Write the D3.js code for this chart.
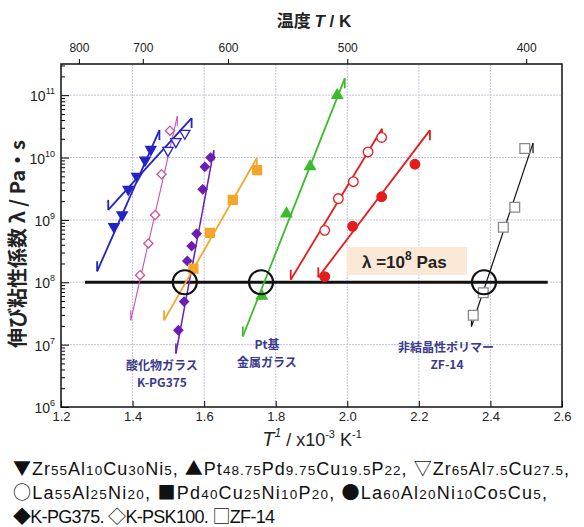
<!DOCTYPE html>
<html>
<head>
<meta charset="utf-8">
<script src="https://cdn.jsdelivr.net/npm/d3@7"></script>
<style>
  body { margin: 0; background: #fff; }
  svg { display: block; }
  text { font-family: "Liberation Sans", Arial, "Noto Sans CJK JP", sans-serif; }
  .jp { font-family: "Noto Sans CJK JP", sans-serif; }
</style>
</head>
<body>
<svg id="chart" width="584" height="527"></svg>
<script>
// --- data (x = 1000/T in 10^-3 K^-1, y = extensional viscosity in Pa s) ---
var zr55 = [[1.451, 1.35e10], [1.435, 9.1e9], [1.412, 5.0e9], [1.388, 3.1e9], [1.371, 1.2e9], [1.348, 7.8e8]]
var zr65 = [[1.499, 1.3e10], [1.521, 1.8e10], [1.546, 2.45e10]]
var psk100 = [[1.5045, 2.7e10], [1.481, 5.4e9], [1.463, 1.2e9], [1.444, 4.2e8], [1.421, 1.3e8]]
var pg375 = [[1.618, 1.0e10], [1.602, 7.1e9], [1.596, 3.1e9], [1.579, 6.0e8], [1.565, 3.8e8], [1.553, 2.2e8], [1.544, 4.9e7], [1.528, 1.7e7]]
var pd40 = [[1.748, 6.3e9], [1.680, 2.1e9], [1.616, 6.2e8], [1.570, 1.66e8]]
var pt = [[1.972, 1.0e11], [1.896, 7.2e9], [1.830, 1.26e9], [1.761, 6.0e7]]
var la55 = [[2.096, 2.1e10], [2.058, 1.23e10], [2.017, 4.1e9], [1.975, 2.2e9], [1.937, 6.8e8]]
var la60 = [[2.189, 7.8e9], [2.096, 2.35e9], [2.015, 7.9e8], [1.937, 1.23e8]]
var zf14 = [[2.496, 1.4e10], [2.468, 1.6e9], [2.436, 7.6e8], [2.380, 6.8e7], [2.352, 2.95e7]]

// fitted lines: [x0, y0, x1, y1]
var fitZr55 = [1.301, 1.5e8, 1.475, 2.75e10]
var fitZr65 = [1.332, 1.45e9, 1.565, 4.3e10]
var fitPsk100 = [1.395, 2.45e7, 1.525, 4.6e10]
var fitPg375 = [1.521, 7.2e6, 1.627, 1.3e10]
var fitPd40 = [1.488, 2.45e7, 1.747, 9.8e9]
var fitPt = [1.708, 1.35e7, 1.993, 1.86e11]
var fitLa55 = [1.842, 1.1e8, 2.097, 2.9e10]
var fitLa60 = [1.919, 1.2e8, 2.231, 2.75e10]
var fitZf14 = [2.347, 1.95e7, 2.519, 1.7e10]

var refViscosity = 1e8
var refLine = [1.267, 2.56]
var crossings = [1.546, 1.759, 2.382]

var xTicks = [1.2, 1.4, 1.6, 1.8, 2.0, 2.2, 2.4, 2.6]
var yDecades = [6, 7, 8, 9, 10, 11]
var topTemps = [800, 700, 600, 500, 400]

var legendLines = [
    [["▼", "Zr55Al10Cu30Ni5"], ["▲", "Pt48.75Pd9.75Cu19.5P22"], ["▽", "Zr65Al7.5Cu27.5"]],
    [["○", "La55Al25Ni20"], ["■", "Pd40Cu25Ni10P20"], ["●", "La60Al20Ni10Co5Cu5"]],
    [["◆", "K-PG375"], ["◇", "K-PSK100"], ["□", "ZF-14"]]
]
var legendWidths = [556, 534, 262]

var svg = d3.select("#chart")
var plotL = 61, plotR = 562, plotT = 64, plotB = 407

var x = d3.scaleLinear().domain([1.2, 2.6]).range([plotL, plotR])
var y = d3.scaleLog().domain([1e6, Math.pow(10, 11.5)]).range([plotB, plotT])

// grid
var grid = svg.append("g").attr("stroke", "#c4c4e6").attr("stroke-width", 1).attr("stroke-dasharray", "2,1")
grid.selectAll(".gx").data(xTicks.slice(1, -1)).enter().append("line")
    .attr("x1", function(d) { return x(d) }).attr("x2", function(d) { return x(d) })
    .attr("y1", plotT).attr("y2", plotB)
grid.selectAll(".gy").data(yDecades.slice(1)).enter().append("line")
    .attr("x1", plotL).attr("x2", plotR)
    .attr("y1", function(d) { return y(Math.pow(10, d)) }).attr("y2", function(d) { return y(Math.pow(10, d)) })

// axes
var minorVals = []
yDecades.forEach(function(d) {
    for (var k = 2; k <= 9; k++) {
        var v = k * Math.pow(10, d)
        if (v < y.domain()[1]) minorVals.push(v)
    }
})
svg.append("g").attr("transform", "translate(" + plotL + ",0)")
    .call(d3.axisRight(y).tickValues(minorVals).tickSize(4).tickFormat(""))
    .call(function(g) { g.select(".domain").remove() })
svg.append("g").attr("transform", "translate(" + plotL + ",0)")
    .call(d3.axisRight(y).tickValues(yDecades.map(function(d) { return Math.pow(10, d) })).tickSize(8).tickFormat(""))
    .call(function(g) { g.select(".domain").remove() })

var yLab = svg.append("g").selectAll("text").data(yDecades).enter().append("text")
    .attr("x", 55).attr("y", function(d) { return y(Math.pow(10, d)) + 6 })
    .attr("text-anchor", "end").attr("font-size", 14).attr("fill", "#222")
yLab.append("tspan").text("10")
yLab.append("tspan").attr("font-size", 9).attr("dy", -7).text(function(d) { return d })

svg.append("g").attr("transform", "translate(0," + plotB + ")")
    .call(d3.axisBottom(x).tickValues(xTicks).tickSizeInner(-6).tickSizeOuter(0).tickPadding(5)
        .tickFormat(d3.format(".1f")))
    .call(function(g) {
        g.select(".domain").remove()
        g.selectAll("text").attr("font-size", 13).attr("fill", "#222")
            .attr("font-family", "Liberation Sans, Arial, sans-serif")
    })

svg.append("g").attr("transform", "translate(0," + plotT + ")")
    .call(d3.axisTop(x).tickValues(topTemps.map(function(t) { return 1000 / t }))
        .tickSizeInner(5).tickSizeOuter(0).tickPadding(7)
        .tickFormat(function(d, i) { return topTemps[i] }))
    .call(function(g) {
        g.select(".domain").remove()
        g.selectAll("text").attr("font-size", 12).attr("fill", "#222")
            .attr("font-family", "Liberation Sans, Arial, sans-serif")
    })

svg.append("rect").attr("x", plotL).attr("y", plotT).attr("width", plotR - plotL).attr("height", plotB - plotT)
    .attr("fill", "none").attr("stroke", "#111").attr("stroke-width", 1.5)

// axis titles
var tt = svg.append("text").attr("x", 314).attr("y", 27).attr("text-anchor", "middle")
    .attr("font-size", 17).attr("font-weight", "bold").attr("fill", "#222")
tt.append("tspan").attr("class", "jp").text("温度 ")
tt.append("tspan").attr("font-style", "italic").text("T")
tt.append("tspan").text(" / K")

var xt = svg.append("text").attr("x", 312).attr("y", 446).attr("text-anchor", "middle")
    .attr("font-size", 18).attr("fill", "#222")
xt.append("tspan").attr("font-style", "italic").attr("font-size", 20).text("T")
xt.append("tspan").attr("font-style", "italic").attr("font-size", 12).attr("dy", -9).text("1")
xt.append("tspan").attr("dy", 9).text(" / x10")
xt.append("tspan").attr("font-size", 11).attr("dy", -8).text("-3")
xt.append("tspan").attr("dy", 8).text(" K")
xt.append("tspan").attr("font-size", 11).attr("dy", -8).text("-1")

svg.append("text").attr("class", "jp")
    .attr("transform", "translate(25,244) rotate(-90)").attr("text-anchor", "middle")
    .attr("font-size", 20).attr("font-weight", "bold").attr("fill", "#222")
    .text("伸び粘性係数 λ / Pa・s")

// reference level
svg.append("line").attr("x1", x(refLine[0])).attr("x2", x(refLine[1]))
    .attr("y1", y(refViscosity)).attr("y2", y(refViscosity))
    .attr("stroke", "#111").attr("stroke-width", 3)

svg.append("rect").attr("x", 347).attr("y", 247).attr("width", 120).attr("height", 28).attr("fill", "#fce8d6")
var rl = svg.append("text").attr("x", 362).attr("y", 268).attr("font-size", 17).attr("font-weight", "bold").attr("fill", "#222")
rl.append("tspan").text("λ =10")
rl.append("tspan").attr("font-size", 12).attr("dy", -8).text("8")
rl.append("tspan").attr("dy", 8).text("  Pas")

// series
var lineGen = function(f) { return [[x(f[0]), y(f[1])], [x(f[2]), y(f[3])]] }

function drawFit(f, color, width) {
    var p = lineGen(f)
    var g = svg.append("g").attr("stroke", color).attr("stroke-width", width).attr("fill", "none")
    g.append("line").attr("x1", p[0][0]).attr("y1", p[0][1]).attr("x2", p[1][0]).attr("y2", p[1][1])
    g.append("line").attr("x1", p[0][0]).attr("y1", p[0][1]).attr("x2", p[0][0]).attr("y2", p[0][1] - 10)
    g.append("line").attr("x1", p[1][0]).attr("y1", p[1][1]).attr("x2", p[1][0]).attr("y2", p[1][1] + 10)
}

function drawPoints(data, type, size, rot, fill, stroke) {
    svg.append("g").selectAll("path").data(data).enter().append("path")
        .attr("d", d3.symbol().type(type).size(size))
        .attr("transform", function(d) { return "translate(" + x(d[0]) + "," + y(d[1]) + ") rotate(" + rot + ")" })
        .attr("fill", fill).attr("stroke", stroke).attr("stroke-width", 1.3)
}

var blue = "#2323c8", pink = "#c850c0", purple = "#6a1eb4", orange = "#f5a52a",
    green = "#3cbb2a", red = "#e41c1c"

drawFit(fitZr55, blue, 1.8)
drawFit(fitZr65, blue, 1.8)
drawFit(fitPsk100, pink, 1.1)
drawFit(fitPg375, purple, 1.5)
drawFit(fitPd40, orange, 1.8)
drawFit(fitPt, green, 1.8)
drawFit(fitLa55, red, 1.8)
drawFit(fitLa60, red, 1.8)
drawFit(fitZf14, "#111", 1.2)

drawPoints(zr55, d3.symbolTriangle, 46, 180, blue, blue)
drawPoints(zr65, d3.symbolTriangle, 46, 180, "#fff", blue)
drawPoints(psk100, d3.symbolSquare, 42, 45, "#fff", "#d0509a")
drawPoints(pg375, d3.symbolSquare, 40, 45, purple, purple)
drawPoints(pd40, d3.symbolSquare, 80, 0, orange, orange)
drawPoints(pt, d3.symbolTriangle, 50, 0, green, green)
drawPoints(la55, d3.symbolCircle, 72, 0, "#fff", red)
drawPoints(la60, d3.symbolCircle, 72, 0, red, red)
drawPoints(zf14, d3.symbolSquare, 95, 0, "#fff", "#888")

svg.append("g").selectAll("circle").data(crossings).enter().append("circle")
    .attr("cx", function(d) { return x(d) }).attr("cy", y(refViscosity)).attr("r", 12)
    .attr("fill", "none").attr("stroke", "#111").attr("stroke-width", 2.2)

// group labels
var groupLabels = [
    [162, 370, "酸化物ガラス"], [162, 387, "K-PG375"],
    [267, 349, "Pt基"], [267, 367, "金属ガラス"],
    [446, 352, "非結晶性ポリマー"], [447, 369, "ZF-14"]
]
svg.append("g").selectAll("text").data(groupLabels).enter().append("text").attr("class", "jp")
    .attr("x", function(d) { return d[0] }).attr("y", function(d) { return d[1] })
    .attr("text-anchor", "middle").attr("font-size", 12).attr("font-weight", "bold").attr("fill", "#3a3a8e")
    .text(function(d) { return d[2] })

// legend below the chart
var legend = svg.append("g")
legendLines.forEach(function(row, r) {
    var t = legend.append("text").attr("x", 13).attr("y", 475 + r * 24).attr("font-size", 18).attr("fill", "#111")
        .attr("textLength", legendWidths[r]).attr("lengthAdjust", "spacing")
    var lastRow = r == legendLines.length - 1
    row.forEach(function(item, i) {
        t.append("tspan").attr("class", "jp").text(item[0])
        var name = item[1]
        if (/^[A-Z][a-z]?\d/.test(name)) {
            var re = /([A-Z][a-z]?)([\d.]+)/g, m
            while ((m = re.exec(name)) !== null) {
                t.append("tspan").attr("font-size", 18).text(m[1])
                t.append("tspan").attr("font-size", 13.5).text(m[2])
            }
        } else {
            t.append("tspan").text(name)
        }
        if (i < row.length - 1) t.append("tspan").text(lastRow ? ". " : ", ")
        else if (!lastRow) t.append("tspan").text(",")
    })
})
</script>
</body>
</html>
